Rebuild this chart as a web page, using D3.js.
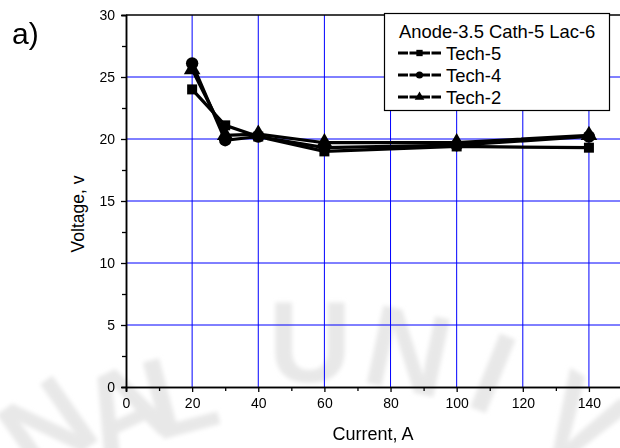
<!DOCTYPE html>
<html>
<head>
<meta charset="utf-8">
<script src="https://cdn.jsdelivr.net/npm/d3@7"></script>
<style>
  body { margin: 0; background: #fff; }
  svg { display: block; font-family: Arial, "Liberation Sans", sans-serif; }
</style>
</head>
<body>
<svg id="chart" width="620" height="448"></svg>
<script>
// data
var currents = [20, 30, 40, 60, 100, 140];
var tech5 = [24.0, 21.1, 20.2, 19.0, 19.4, 19.3];
var tech4 = [26.1, 19.9, 20.2, 19.3, 19.5, 20.2];
var tech2 = [25.6, 20.3, 20.4, 19.7, 19.7, 20.3];
var seriesNames = ["Tech-5", "Tech-4", "Tech-2"];
var seriesSymbols = [d3.symbolSquare, d3.symbolCircle, d3.symbolTriangle];
var legendTitle = "Anode-3.5 Cath-5 Lac-6";
var xTicks = [0, 20, 40, 60, 80, 100, 120, 140];
var yTicks = [0, 5, 10, 15, 20, 25, 30];
// watermark letters (background)
var wmLetters = ["N", "A", "L", "U", "N", "I", "V"];
var wmX = [70, 140, 190, 310, 400, 478, 560];
var wmY = [460, 445, 432, 382, 390, 410, 455];
var wmRot = [-35, -25, -15, 0, 12, 22, 32];

var svg = d3.select("#chart");
var mLeft = 126, mTop = 15, mRight = 622, mBottom = 387;

var x = d3.scaleLinear().domain([0, 150]).range([mLeft, mRight]);
var y = d3.scaleLinear().domain([0, 30]).range([mBottom, mTop]);

svg.append("defs").append("filter").attr("id", "blur")
	.append("feGaussianBlur").attr("stdDeviation", 2);

// watermark
svg.append("g").attr("filter", "url(#blur)").selectAll("text")
	.data(wmLetters)
	.enter()
	.append("text")
	.attr("transform", function(d, i) { return "translate(" + wmX[i] + "," + wmY[i] + ") rotate(" + wmRot[i] + ")"; })
	.attr("text-anchor", "middle")
	.style("font-size", "115px")
	.style("font-weight", "bold")
	.style("fill", "#e8e8e8")
	.text(function(d) { return d; });

// grid
var grid = svg.append("g");
grid.selectAll("line.gx")
	.data(xTicks.filter(function(d) { return d > 0; }))
	.enter().append("line")
	.attr("x1", function(d) { return x(d); }).attr("x2", function(d) { return x(d); })
	.attr("y1", mTop).attr("y2", mBottom)
	.attr("stroke", "#0000ff").attr("stroke-width", 1);
grid.selectAll("line.gy")
	.data(yTicks.filter(function(d) { return d > 0 && d < 30; }))
	.enter().append("line")
	.attr("x1", mLeft).attr("x2", mRight)
	.attr("y1", function(d) { return y(d); }).attr("y2", function(d) { return y(d); })
	.attr("stroke", "#0000ff").attr("stroke-width", 1);

// top border
svg.append("line").attr("x1", mLeft).attr("x2", mRight).attr("y1", mTop).attr("y2", mTop)
	.attr("stroke", "#000").attr("stroke-width", 1.5);

// axes
var xAxis = d3.axisBottom(x).tickValues(xTicks).tickSize(5).tickPadding(6).tickFormat(d3.format("d"));
var xMinor = d3.axisBottom(x).tickValues(d3.range(10, 150, 20)).tickSize(4).tickFormat("");
var yAxis = d3.axisLeft(y).tickValues(yTicks).tickSize(5).tickPadding(6).tickFormat(d3.format("d"));
var yMinor = d3.axisLeft(y).tickValues(d3.range(2.5, 30, 5)).tickSize(4).tickFormat("");

function styleAxis(g) {
	g.select(".domain").attr("stroke", "#000").attr("stroke-width", 1.5);
	g.selectAll(".tick line").attr("stroke", "#000").attr("stroke-width", 1.3);
	g.selectAll("text").style("font-size", "14px").attr("fill", "#000");
}

svg.append("g").attr("transform", "translate(0," + mBottom + ")").call(xMinor).call(styleAxis);
svg.append("g").attr("transform", "translate(0," + mBottom + ")").call(xAxis).call(styleAxis);
svg.append("g").attr("transform", "translate(" + mLeft + ",0)").call(yMinor).call(styleAxis);
svg.append("g").attr("transform", "translate(" + mLeft + ",0)").call(yAxis).call(styleAxis);

// axis titles
svg.append("text").attr("x", 373).attr("y", 440).attr("text-anchor", "middle")
	.style("font-size", "18px").text("Current, A");
svg.append("text").attr("transform", "translate(84,214) rotate(-90)").attr("text-anchor", "middle")
	.style("font-size", "17.5px").text("Voltage, v");
svg.append("text").attr("x", 12).attr("y", 44).style("font-size", "30px").text("a)");

// series
var allSeries = [tech5, tech4, tech2];
var line = d3.line()
	.x(function(d, i) { return x(currents[i]); })
	.y(function(d) { return y(d); });

var plot = svg.append("g");
allSeries.forEach(function(vals, s) {
	plot.append("path")
		.datum(vals)
		.attr("d", line)
		.attr("fill", "none")
		.attr("stroke", "#000")
		.attr("stroke-width", 3.2)
		.attr("stroke-linejoin", "miter");
});
allSeries.forEach(function(vals, s) {
	plot.selectAll("path.m" + s)
		.data(vals)
		.enter().append("path")
		.attr("class", "m" + s)
		.attr("transform", function(d, i) { return "translate(" + x(currents[i]) + "," + y(d) + ")"; })
		.attr("d", d3.symbol().type(seriesSymbols[s]).size(s == 0 ? 100 : 120))
		.attr("fill", "#000");
});

// legend
var lg = svg.append("g");
lg.append("rect").attr("x", 384.5).attr("y", 13.5).attr("width", 225).attr("height", 97)
	.attr("fill", "#fff").attr("stroke", "#000").attr("stroke-width", 1.2);
lg.append("text").attr("x", 399).attr("y", 38).style("font-size", "18.4px").text(legendTitle);
seriesNames.forEach(function(name, s) {
	var ly = 53 + s * 22;
	lg.append("line").attr("x1", 398).attr("x2", 441).attr("y1", ly).attr("y2", ly)
		.attr("stroke", "#000").attr("stroke-width", 3);
	lg.append("path").attr("transform", "translate(419.5," + ly + ")")
		.attr("d", d3.symbol().type(seriesSymbols[s]).size(40)).attr("fill", "#000");
	lg.append("rect").attr("x", 408).attr("y", ly - 3).attr("width", 1.5).attr("height", 6).attr("fill", "#fff");
	lg.append("rect").attr("x", 430).attr("y", ly - 3).attr("width", 1.5).attr("height", 6).attr("fill", "#fff");
	lg.append("text").attr("x", 446).attr("y", ly + 6.5).style("font-size", "18.4px").text(name);
});
</script>
</body>
</html>
